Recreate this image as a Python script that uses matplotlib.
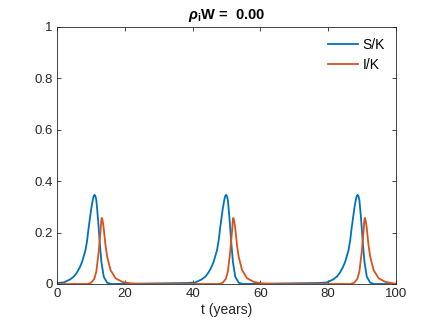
import numpy as np
import matplotlib
matplotlib.use('Agg')
import matplotlib.pyplot as plt

# S/K, three outbreaks
t_S = [0, 2.0, 3.9, 5.0, 5.9, 6.7, 7.4, 8.4, 8.9, 9.3, 10.1, 10.6, 10.85, 11.1, 11.35, 11.6, 12.1, 12.6, 13.1, 13.8, 14.8, 16.0,
       38.8, 40.8, 42.7, 43.8, 44.7, 45.5, 46.2, 47.2, 47.7, 48.1, 48.9, 49.4, 49.65, 49.9, 50.15, 50.4, 50.9, 51.4, 51.9, 52.6, 53.6, 54.8,
       77.6, 79.6, 81.5, 82.6, 83.5, 84.3, 85.0, 86.0, 86.5, 86.9, 87.7, 88.2, 88.45, 88.7, 88.95, 89.2, 89.7, 90.2, 90.7, 91.4, 92.4, 93.6, 100]
S = [0.004, 0.006, 0.018, 0.029, 0.045, 0.064, 0.086, 0.131, 0.17, 0.215, 0.293, 0.33, 0.343, 0.347, 0.341, 0.327, 0.254, 0.164, 0.086, 0.028, 0.005, 0.0,
     0.004, 0.006, 0.018, 0.029, 0.045, 0.064, 0.086, 0.131, 0.17, 0.215, 0.293, 0.33, 0.343, 0.347, 0.341, 0.327, 0.254, 0.164, 0.086, 0.028, 0.005, 0.0,
     0.004, 0.006, 0.018, 0.029, 0.045, 0.064, 0.086, 0.131, 0.17, 0.215, 0.293, 0.33, 0.343, 0.347, 0.341, 0.327, 0.254, 0.164, 0.086, 0.028, 0.005, 0.0, 0.0]

# I/K
t_I = [0, 9.0, 10.1, 11.0, 11.6, 12.3, 12.9, 13.05, 13.2, 13.4, 13.6, 13.8, 14.3, 14.8, 15.8, 17.3, 19.3, 21.8, 25.0,
       47.8, 48.9, 49.8, 50.4, 51.1, 51.7, 51.85, 52.0, 52.2, 52.4, 52.6, 53.1, 53.6, 54.6, 56.1, 58.1, 60.6, 63.8,
       86.6, 87.7, 88.6, 89.2, 89.9, 90.5, 90.65, 90.8, 91.0, 91.2, 91.4, 91.9, 92.4, 93.4, 94.9, 96.9, 99.4, 100]
I = [0.0, 0.0, 0.005, 0.02, 0.048, 0.125, 0.215, 0.245, 0.257, 0.25, 0.235, 0.215, 0.151, 0.106, 0.054, 0.022, 0.008, 0.002, 0.0,
     0.0, 0.005, 0.02, 0.048, 0.125, 0.215, 0.245, 0.257, 0.25, 0.235, 0.215, 0.151, 0.106, 0.054, 0.022, 0.008, 0.002, 0.0,
     0.0, 0.005, 0.02, 0.048, 0.125, 0.215, 0.245, 0.257, 0.25, 0.235, 0.215, 0.151, 0.106, 0.054, 0.022, 0.008, 0.002, 0.002]

xticks = [0, 20, 40, 60, 80, 100]
yticks = [0, 0.2, 0.4, 0.6, 0.8, 1]
ytick_labels = ['0', '0.2', '0.4', '0.6', '0.8', '1']

plt.rcParams['font.family'] = ['Liberation Sans', 'DejaVu Sans']
plt.rcParams['mathtext.fontset'] = 'custom'
plt.rcParams['mathtext.rm'] = 'Liberation Sans'
plt.rcParams['mathtext.it'] = 'Liberation Sans:italic'
plt.rcParams['mathtext.bf'] = 'Liberation Sans:bold'
plt.rcParams['mathtext.bfit'] = 'Liberation Sans:italic:bold'

fig = plt.figure(figsize=(4.36, 3.27), dpi=100)
ax = fig.add_axes([0.1307, 0.1315, 0.7775, 0.786])

ax.plot(t_S, S, color='#0072BD', linewidth=1.3, label='S/K')
ax.plot(t_I, I, color='#D95319', linewidth=1.3, label='I/K')

ax.set_xlim(0, 100)
ax.set_ylim(0, 1)
ax.set_xticks(xticks)
ax.set_yticks(yticks)
ax.set_yticklabels(ytick_labels)
ax.tick_params(direction='in', top=True, right=True, length=3, width=0.6,
               colors='#262626', labelsize=9.5, pad=3)
for s in ax.spines.values():
    s.set_color('#262626')
    s.set_linewidth(0.6)

ax.set_xlabel('t (years)', fontsize=10, color='#262626', labelpad=2)
ax.set_title(r'$\mathbfit{\rho}_{\mathbf{i}}$W =  0.00', fontsize=10.5, fontweight='bold', pad=6)

leg = ax.legend(loc='upper right', frameon=False, fontsize=10, handlelength=2.2,
                handletextpad=0.3, labelspacing=0.45, borderaxespad=0.4)

fig.savefig('out.png', dpi=100)
